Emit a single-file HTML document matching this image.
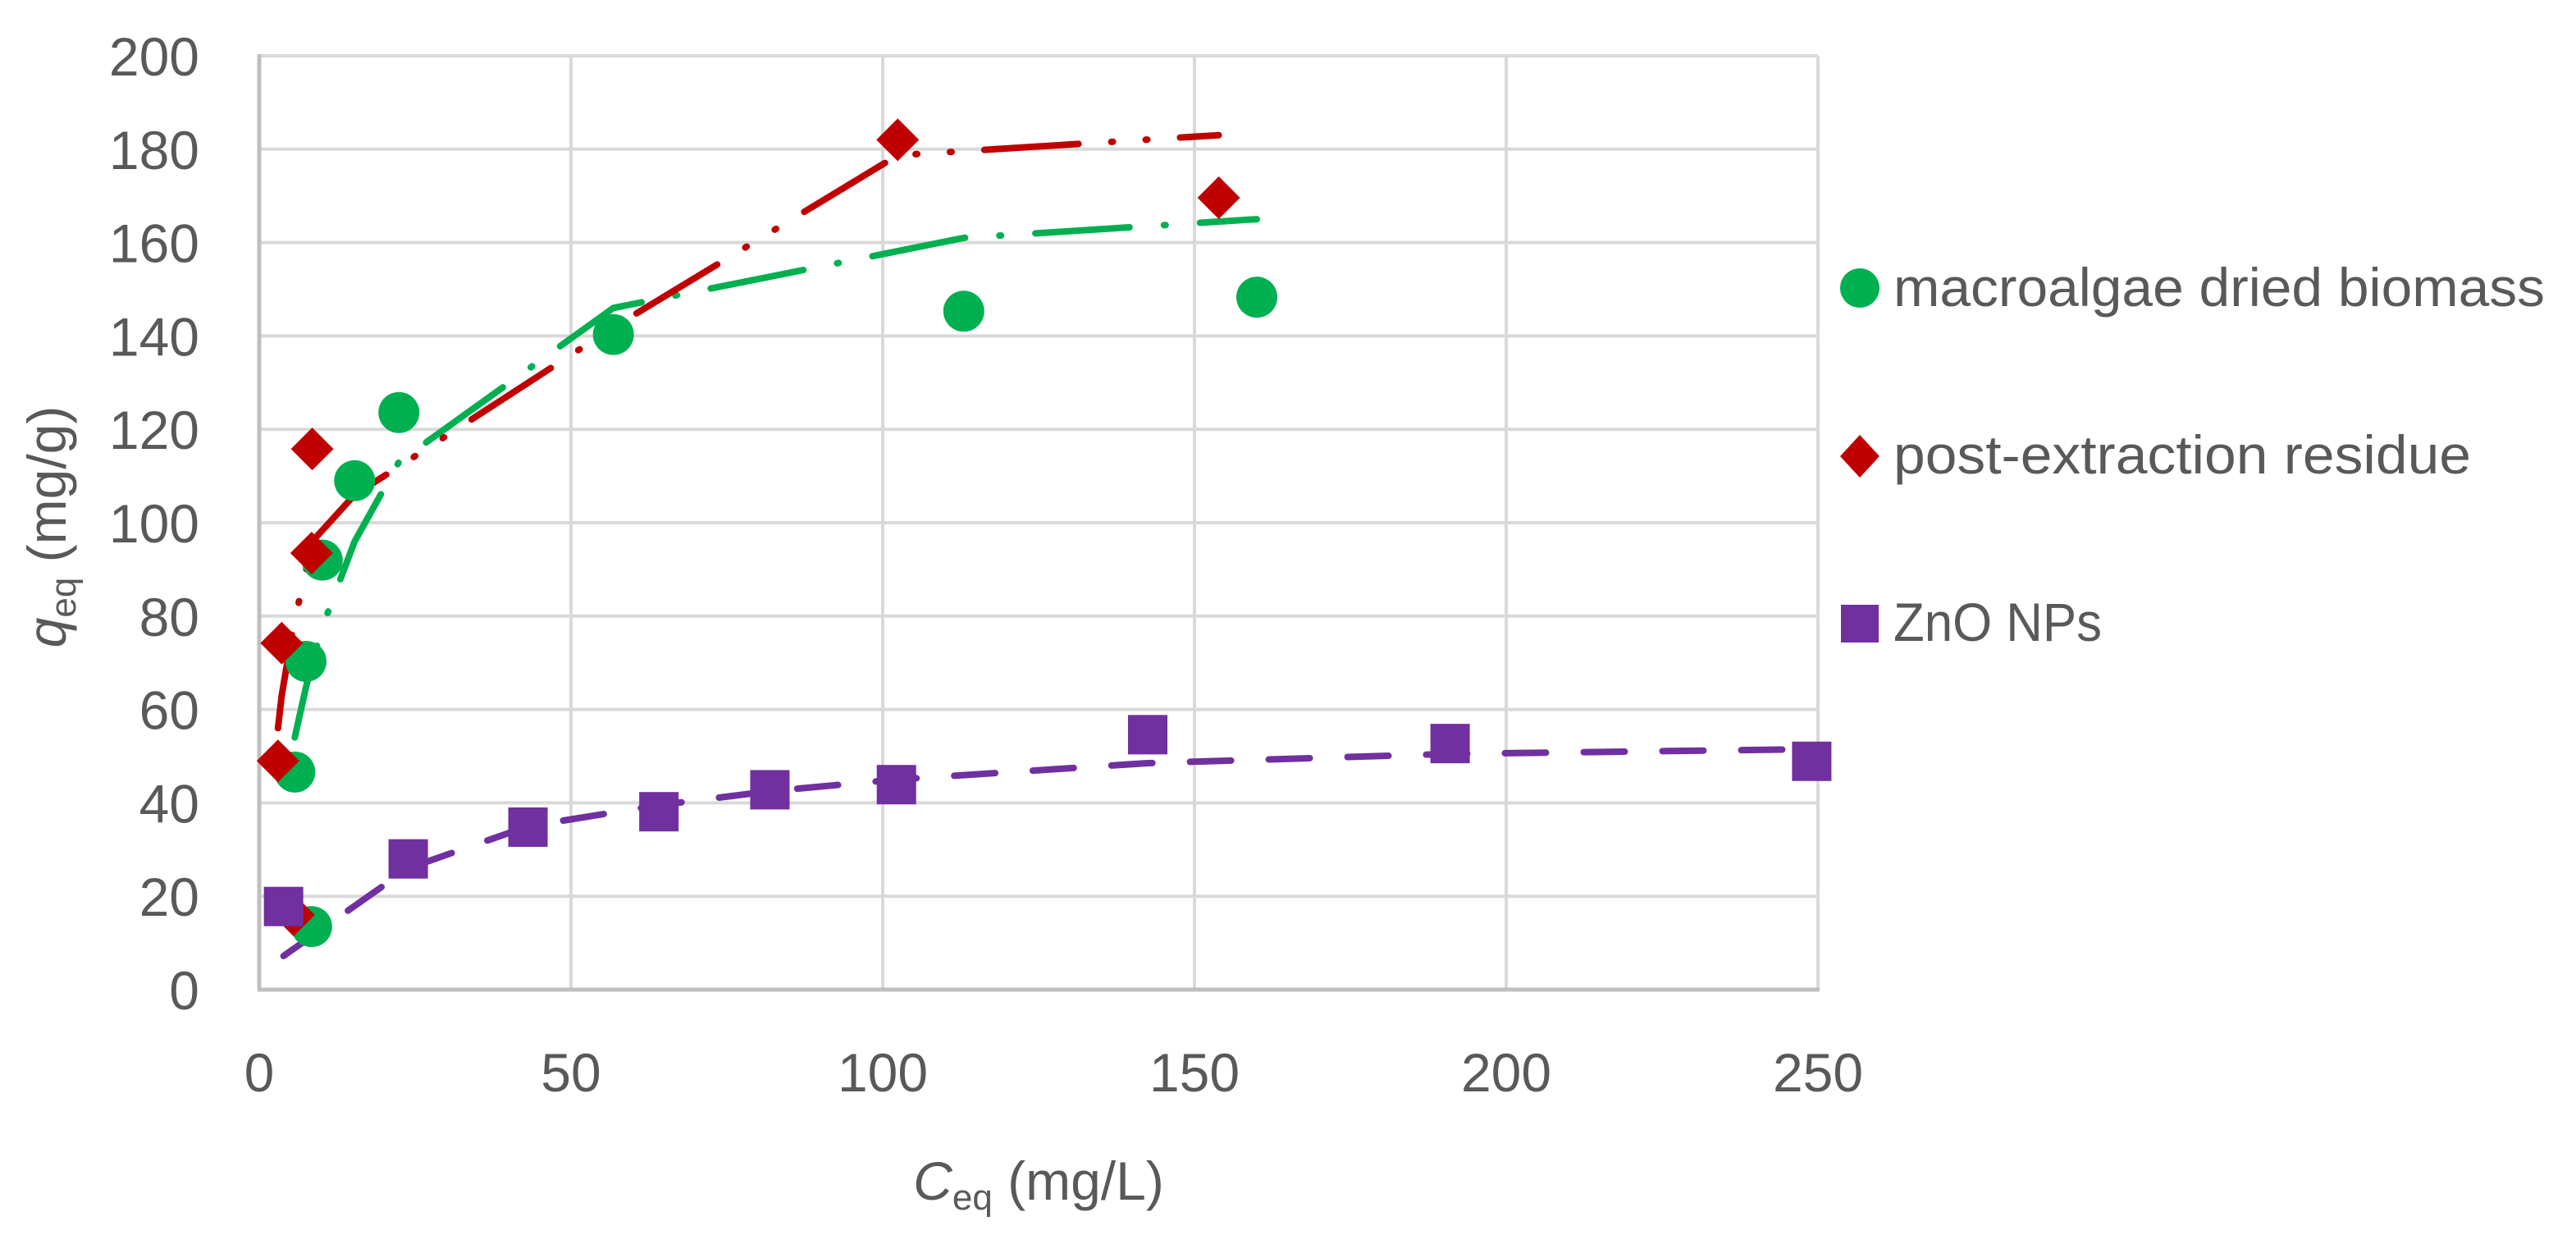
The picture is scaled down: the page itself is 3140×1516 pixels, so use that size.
<!DOCTYPE html>
<html><head><meta charset="utf-8"><style>
html,body{margin:0;padding:0;background:#fff;}
svg{display:block;font-family:"Liberation Sans",sans-serif;}
</style></head><body>
<svg id="chart" width="3140" height="1516" viewBox="0 0 3140 1516" xmlns="http://www.w3.org/2000/svg">
<g id="grid"></g>
<g id="axes"></g>
<g id="lines"></g>
<g id="marks"></g>
<text transform="translate(80,642) rotate(-90)" text-anchor="middle" font-size="66" fill="#595959"><tspan font-style="italic">q</tspan><tspan font-size="44" dy="12">eq</tspan><tspan dy="-12"> (mg/g)</tspan></text>
<text x="1266" y="1462" text-anchor="middle" font-size="66" fill="#595959"><tspan font-style="italic">C</tspan><tspan font-size="44" dy="12">eq</tspan><tspan dy="-12"> (mg/L)</tspan></text>
<g>
 <g>
  <circle cx="2267" cy="351" r="24" fill="#00b050"/>
  <text x="2308" y="373" font-size="66" fill="#595959" textLength="794" lengthAdjust="spacingAndGlyphs">macroalgae dried biomass</text>
 </g>
 <g>
  <polygon points="2267,530 2291,556 2267,582 2243,556" fill="#c00000"/>
  <text x="2308" y="577" font-size="66" fill="#595959" textLength="704" lengthAdjust="spacingAndGlyphs">post-extraction residue</text>
 </g>
 <g>
  <rect x="2244" y="737" width="46" height="46" fill="#7030a0"/>
  <text x="2308" y="781" font-size="66" fill="#595959" textLength="254" lengthAdjust="spacingAndGlyphs">ZnO NPs</text>
 </g>
</g>
</svg>
<script>
const xTicks = [0, 50, 100, 150, 200, 250];
const yTicks = [0, 20, 40, 60, 80, 100, 120, 140, 160, 180, 200];
const greenX = [5.7, 8.4, 7.5, 10.1, 15.3, 22.4, 56.8, 113, 160];
const greenY = [46.6, 13.5, 70.3, 92, 109, 123.6, 140.3, 145.3, 148.3];
const redX = [3, 3.6, 5.5, 8.4, 8.5, 102.4, 153.9];
const redY = [49, 74.2, 16, 93.5, 115.8, 182, 169.6];
const purpleX = [3.9, 23.9, 43.1, 64.1, 81.9, 102.2, 142.5, 191, 249];
const purpleY = [17.8, 28, 34.8, 38.1, 42.8, 43.9, 54.6, 52.7, 48.9];
const greenFitX = [5.7, 7.5, 8.4, 10.1, 15.3, 22.4, 56.8, 113, 160];
const greenFitY = [54, 64.8, 69.6, 77.6, 96, 113, 146, 161, 165];
const redFitX = [3, 3.6, 5.5, 8.4, 8.5, 15.3, 22.4, 57, 102.4, 153.9];
const redFitY = [56, 63, 78, 95, 96, 106, 112, 142, 178.7, 183];
const purpleFitX = [3.9, 23.9, 43.1, 64.1, 81.9, 102.2, 142.5, 191, 249];
const purpleFitY = [7.2, 26, 35, 39.5, 42.5, 45, 48.5, 50.5, 51.5];

const X0 = 316, X1 = 2216, Y0 = 1206, Y1 = 68;
const sx = v => X0 + (X1 - X0) * v / 250;
const sy = v => Y0 - (Y0 - Y1) * v / 200;
const NS = 'http://www.w3.org/2000/svg';
function mk(tag, attrs, parent) {
  const e = document.createElementNS(NS, tag);
  for (const k in attrs) e.setAttribute(k, attrs[k]);
  parent.appendChild(e);
  return e;
}
const grid = document.getElementById('grid');
const axes = document.getElementById('axes');
yTicks.forEach(t => {
  if (t > 0) {
    const l = mk('line', {x1: X0, x2: X1, y1: sy(t), y2: sy(t), stroke: '#d9d9d9', 'stroke-width': 4}, grid);
    
    
  }
  const tx = mk('text', {x: 243, y: sy(t) + 24, 'text-anchor': 'end', 'font-size': 66, fill: '#595959'}, axes);
  tx.textContent = t;
  
  
});
xTicks.forEach(t => {
  if (t > 0) {
    const l = mk('line', {x1: sx(t), x2: sx(t), y1: Y0, y2: Y1, stroke: '#d9d9d9', 'stroke-width': 4}, grid);
    
    
  }
  const tx = mk('text', {x: sx(t), y: 1330, 'text-anchor': 'middle', 'font-size': 66, fill: '#595959'}, axes);
  tx.textContent = t;
  
  
});
const xa = mk('line', {x1: X0 - 2, x2: X1 + 2, y1: Y0, y2: Y0, stroke: '#bfbfbf', 'stroke-width': 5}, axes);


const ya = mk('line', {x1: X0, x2: X0, y1: Y0, y2: Y1 - 2, stroke: '#bfbfbf', 'stroke-width': 5}, axes);



const lines = document.getElementById('lines');
function fit(xs, ys, color, dash, name) {
  const d = xs.map((x, i) => (i ? 'L' : 'M') + sx(x).toFixed(1) + ',' + sy(ys[i]).toFixed(1)).join(' ');
  const p = mk('path', {d: d, fill: 'none', stroke: color, 'stroke-width': 8, 'stroke-dasharray': dash, 'stroke-linecap': 'round', 'stroke-linejoin': 'round'}, lines);
  
  
}
fit(greenFitX, greenFitY, '#00b050', '115 42 2 42', 'macroalgae-fit-line');
fit(redFitX, redFitY, '#c00000', '115 40 2 40 2 40', 'residue-fit-line');
fit(purpleFitX, purpleFitY, '#7030a0', '50 46', 'zno-fit-line');

const marks = document.getElementById('marks');
greenX.forEach((x, i) => {
  const c = mk('circle', {cx: sx(x), cy: sy(greenY[i]), r: 25, fill: '#00b050'}, marks);
  
  
});
redX.forEach((x, i) => {
  const cx = sx(x), cy = sy(redY[i]), r = 26;
  const p = mk('polygon', {points: `${cx},${cy - r} ${cx + r},${cy} ${cx},${cy + r} ${cx - r},${cy}`, fill: '#c00000'}, marks);
  
  
});
purpleX.forEach((x, i) => {
  const r = mk('rect', {x: sx(x) - 24, y: sy(purpleY[i]) - 24, width: 48, height: 48, fill: '#7030a0'}, marks);
  
  
});
</script>
</body></html>
